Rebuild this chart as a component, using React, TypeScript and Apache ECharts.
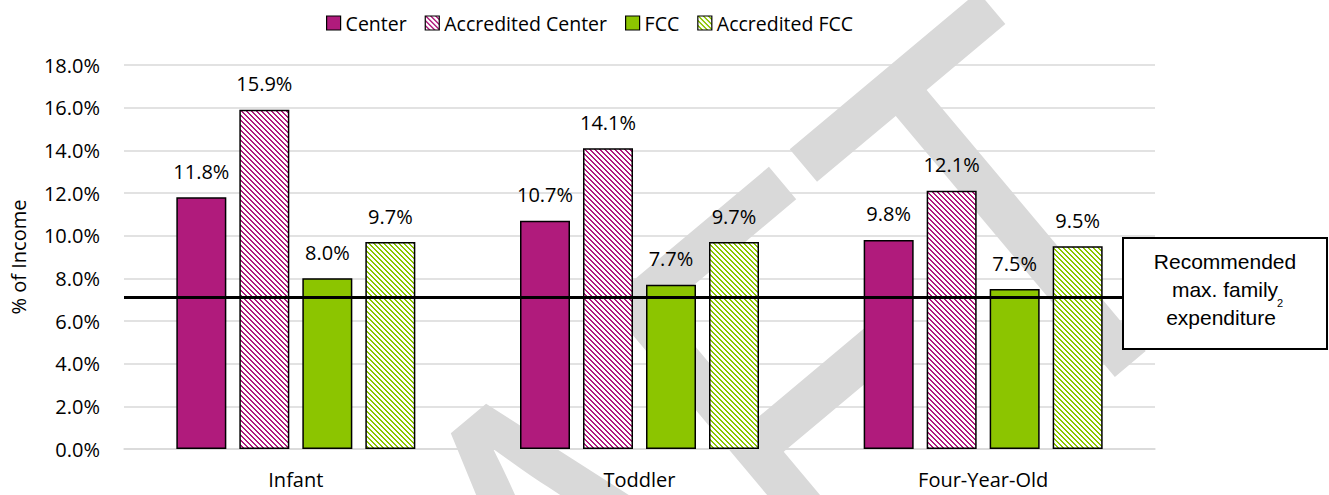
import React, { useEffect, useRef } from "react";
import * as echarts from "echarts";

const categories = ["Infant", "Toddler", "Four-Year-Old"];
const seriesNames = ["Center", "Accredited Center", "FCC", "Accredited FCC"];
const center = [11.8, 10.7, 9.8];
const accreditedCenter = [15.9, 14.1, 12.1];
const fcc = [8.0, 7.7, 7.5];
const accreditedFcc = [9.7, 9.7, 9.5];
const recommendedMax = 7.1;
const yTicks = { min: 0, max: 18, interval: 2 };
const boxLines = ["Recommended", "max. family", "expenditure"];
const watermark = "DRAFT";

const MAGENTA = "#B01B7C";
const GREEN = "#8CC500";
const FONT = '"Open Sans", sans-serif';

function hatch(color: string) {
  const n = 10;
  const c = document.createElement("canvas");
  c.width = n;
  c.height = n;
  const ctx = c.getContext("2d")!;
  ctx.fillStyle = "#ffffff";
  ctx.fillRect(0, 0, n, n);
  ctx.fillStyle = color;
  for (let y = 0; y < n; y++) {
    for (let x = 0; x < n; x++) {
      const d = (((x - y) % 5) + 5) % 5;
      if (d === 0 || d === 1) ctx.fillRect(x, y, 1, 1);
    }
  }
  return { image: c, repeat: "repeat", imageWidth: n, imageHeight: n } as any;
}

export default function App() {
  const ref = useRef<HTMLDivElement>(null);
  useEffect(() => {
    const chart = echarts.init(ref.current!, null, { renderer: "svg" });
    const magHatch = hatch(MAGENTA);
    const greenHatch = hatch(GREEN);
    const fills = [MAGENTA, magHatch, GREEN, greenHatch];
    const datas = [center, accreditedCenter, fcc, accreditedFcc];
    const series: any[] = seriesNames.map((name, i) => ({
      name,
      type: "bar",
      data: datas[i],
      barWidth: 50,
      barGap: "26%",
      itemStyle: { color: fills[i], borderColor: "#000", borderWidth: 1.5 },
      label: {
        show: true,
        position: "top",
        distance: 16,
        formatter: (p: any) => p.value.toFixed(1) + "%",
        fontFamily: FONT,
        fontSize: 20,
        color: "#000",
      },
    }));
    series[0].markLine = {
      silent: true,
      symbol: "none",
      label: { show: false },
      lineStyle: { color: "#000", width: 3, type: "solid" },
      data: [{ yAxis: recommendedMax }],
      z: 5,
    };
    const rot = (40 * Math.PI) / 180;
    chart.setOption({
      animation: false,
      backgroundColor: "#fff",
      legend: {
        data: seriesNames,
        left: 321,
        top: 8,
        itemWidth: 14,
        itemHeight: 14,
        itemGap: 18,
        icon: "rect",
        textStyle: { fontFamily: FONT, fontSize: 19.5, color: "#000" },
        itemStyle: { borderColor: "#000", borderWidth: 1.2 },
      },
      grid: { left: 122, right: 174, top: 65, bottom: 46 },
      xAxis: {
        type: "category",
        data: categories,
        axisTick: { show: false },
        axisLine: { lineStyle: { color: "#d9d9d9", width: 1.5 } },
        axisLabel: { fontFamily: FONT, fontSize: 20, color: "#000", margin: 20 },
      },
      yAxis: {
        type: "value",
        min: yTicks.min,
        max: yTicks.max,
        interval: yTicks.interval,
        name: "% of Income",
        nameLocation: "middle",
        nameGap: 96,
        nameTextStyle: { fontFamily: FONT, fontSize: 20, color: "#000" },
        axisLine: { show: false },
        axisTick: { show: false },
        splitLine: { lineStyle: { color: "#d9d9d9", width: 1.5 } },
        axisLabel: {
          fontFamily: FONT,
          fontSize: 20,
          color: "#000",
          margin: 24,
          formatter: (v: number) => v.toFixed(1) + "%",
        },
      },
      graphic: [
        {
          type: "text",
          x: 553,
          y: 596,
          rotation: rot,
          scaleX: 0.78,
          scaleY: 1,
          silent: true,
          z: -100,
          style: {
            text: watermark,
            font: '557px "Liberation Sans", Arial, sans-serif',
            fill: "#d9d9d9",
            align: "center",
            verticalAlign: "middle",
          },
        },
        {
          type: "rect",
          z: 100,
          shape: { x: 1123, y: 238, width: 204, height: 111 },
          style: { fill: "#fff", stroke: "#000", lineWidth: 2 },
        },
        ...boxLines.map((t, i) => ({
          type: "text",
          z: 101,
          x: i === 2 ? 1221 : 1225,
          y: 261 + i * 28,
          style: {
            text: t,
            font: '21px "Liberation Sans", Arial, sans-serif',
            fill: "#000",
            align: "center",
            verticalAlign: "middle",
          },
        })),
        {
          type: "text",
          z: 101,
          x: 1280,
          y: 303,
          style: {
            text: "2",
            font: '11px "Liberation Sans", Arial, sans-serif',
            fill: "#000",
            align: "center",
            verticalAlign: "middle",
          },
        },
      ],
      series,
    });
    return () => chart.dispose();
  }, []);
  return (
    <div
      ref={ref}
      style={{ position: "fixed", left: 0, top: 0, width: 1329, height: 495 }}
    />
  );
}
